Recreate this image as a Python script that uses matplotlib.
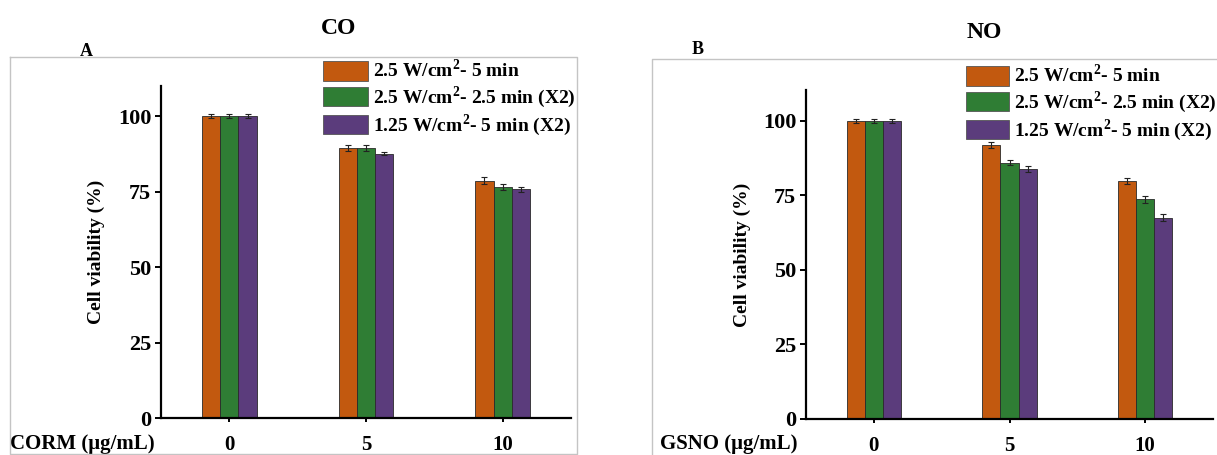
import matplotlib
matplotlib.use("Agg")
import matplotlib.pyplot as plt
import numpy as np
from matplotlib.lines import Line2D

plt.rcParams['font.family'] = ['Liberation Serif', 'DejaVu Serif']
plt.rcParams['font.weight'] = 'bold'
plt.rcParams['mathtext.fontset'] = 'custom'
plt.rcParams['mathtext.rm'] = 'Liberation Serif:bold'
plt.rcParams['mathtext.bf'] = 'Liberation Serif:bold'

categories = ['0', '5', '10']
series_labels = ['2.5 W/cm$^{2}$- 5 min', '2.5 W/cm$^{2}$- 2.5 min (X2)', '1.25 W/cm$^{2}$- 5 min (X2)']
colors = ['#C2590F', '#2F7D34', '#5B3C7C']

co_vals = [[100, 89.6, 78.6], [100, 89.5, 76.6], [100, 87.6, 75.8]]
co_err = [[0.7, 1.0, 1.1], [0.7, 1.0, 1.0], [0.7, 0.6, 0.9]]
no_vals = [[100, 91.9, 79.9], [100, 86.0, 73.7], [100, 83.9, 67.5]]
no_err = [[0.8, 1.0, 0.9], [0.8, 0.9, 1.2], [0.8, 1.0, 1.2]]

W, H = 1217, 455
fig = plt.figure(figsize=(W / 100, H / 100), dpi=100)

def frac(x0, y0, x1, y1):
    return [x0 / W, 1 - y1 / H, (x1 - x0) / W, (y1 - y0) / H]

grey = '#C4C4C4'
# frames
fig.add_artist(Line2D([9.6 / W, 577 / W, 577 / W, 9.6 / W, 9.6 / W],
                      [1 - 57 / H, 1 - 57 / H, 1 - 454 / H, 1 - 454 / H, 1 - 57 / H],
                      color=grey, lw=1.0, transform=fig.transFigure))
fig.add_artist(Line2D([652 / W, 652 / W, 1.0], [0.0, 1 - 59 / H, 1 - 59 / H],
                      color=grey, lw=1.0, transform=fig.transFigure))

def panel(rect, ytop, vals, errs, xlabel, xlabel_x, ylabel_x):
    ax = fig.add_axes(rect)
    x = np.arange(len(categories))
    bw = 0.4 / 3
    for i in range(3):
        ax.bar(x + (i - 1) * bw, vals[i], bw, yerr=errs[i], color=colors[i],
               edgecolor='#2a2a2a', linewidth=0.6, label=series_labels[i],
               error_kw=dict(ecolor='#222222', elinewidth=0.8, capsize=2.5, capthick=0.8))
    ax.set_xlim(-0.5, 2.5)
    ax.set_ylim(0, ytop)
    ax.set_yticks([0, 25, 50, 75, 100])
    ax.set_xticks(x)
    ax.set_xticklabels(categories)
    for s in ['top', 'right']:
        ax.spines[s].set_visible(False)
    for s in ['left', 'bottom']:
        ax.spines[s].set_linewidth(1.6)
    ax.tick_params(axis='y', direction='out', length=4.5, width=1.4, pad=2.5, labelsize=16)
    ax.tick_params(axis='x', direction='out', length=3, width=1.4, pad=9, labelsize=15)
    for t in ax.get_xticklabels() + ax.get_yticklabels():
        t.set_fontweight('bold')
    ax.set_ylabel('Cell viability (%)', fontsize=14, fontweight='bold', va='center')
    ax.yaxis.set_label_coords(ylabel_x, 0.5)
    ax.set_xlabel(xlabel, fontsize=15, fontweight='bold', va='center')
    ax.xaxis.set_label_coords(xlabel_x, -0.077)
    ax.patch.set_alpha(0)
    return ax

axA = panel(frac(161, 86, 571, 418), 110, co_vals, co_err, 'CORM (μg/mL)', (82 - 161) / 410, (96 - 161) / 410)
axB = panel(frac(806, 90, 1213, 419), 110.4, no_vals, no_err, 'GSNO (μg/mL)', (729 - 806) / 407, (742 - 806) / 407)

for ax, (lx, ly), hl in [(axA, (323, 59), 45 / 19.4), (axB, (966, 64), 43 / 19.4)]:
    leg = fig.legend(*ax.get_legend_handles_labels(), loc='upper left',
                     bbox_to_anchor=(lx / W, 1 - ly / H), borderaxespad=0, borderpad=0,
                     frameon=False, handlelength=hl, handleheight=1.13,
                     labelspacing=0.14, handletextpad=0.25,
                     prop=dict(weight='bold', size=14))
    for p in leg.get_patches():
        p.set_edgecolor('#555555')

fig.text(339 / W, 1 - 28 / H, 'CO', ha='center', va='center', fontsize=17, fontweight='bold')
fig.text(86 / W, 1 - 52 / H, 'A', ha='center', va='center', fontsize=13, fontweight='bold')
fig.text(984 / W, 1 - 33 / H, 'NO', ha='center', va='center', fontsize=17, fontweight='bold')
fig.text(698 / W, 1 - 49 / H, 'B', ha='center', va='center', fontsize=13, fontweight='bold')

fig.savefig('out.png', dpi=100)
